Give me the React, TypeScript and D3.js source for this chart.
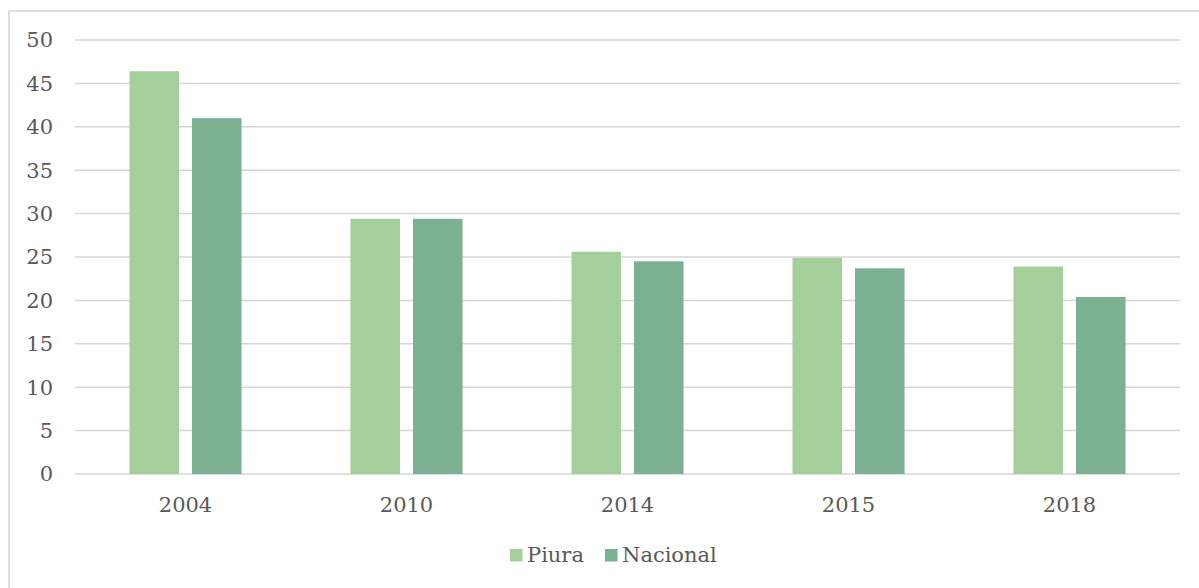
import { useMemo } from 'react';
import * as d3 from 'd3';

const YEARS = ['2004', '2010', '2014', '2015', '2018'];
const SERIES = ['Piura', 'Nacional'];
const PIURA = [46.4, 29.4, 25.6, 24.9, 23.9];
const NACIONAL = [41.0, 29.4, 24.5, 23.7, 20.4];
const Y_TICKS = [0, 5, 10, 15, 20, 25, 30, 35, 40, 45, 50];

const COLORS: Record<string, string> = {
  Piura: '#a5cf9a',
  Nacional: '#7bb192',
};

const W = 1199;
const H = 588;
const LEFT = 75;
const RIGHT = 1180;
const TOP = 40;
const BOTTOM = 474;
const FONT = '"DejaVu Serif", Georgia, serif';
const TEXT = '#595959';
const GRID = '#d6d6d6';

export default function App() {
  const x0 = useMemo(
    () =>
      d3
        .scaleBand<string>()
        .domain(YEARS)
        .range([LEFT, RIGHT])
        .paddingInner(0.493)
        .paddingOuter(0.2465),
    [],
  );
  const x1 = useMemo(
    () =>
      d3
        .scaleBand<string>()
        .domain(SERIES)
        .range([0, x0.bandwidth()])
        .paddingInner(0.208),
    [x0],
  );
  const y = useMemo(
    () => d3.scaleLinear().domain([0, 50]).range([BOTTOM, TOP]),
    [],
  );

  const values: Record<string, number[]> = { Piura: PIURA, Nacional: NACIONAL };

  // legend layout
  const legendY = 555;
  const legendItems = [
    { name: 'Piura', x: 510 },
    { name: 'Nacional', x: 605 },
  ];

  return (
    <svg
      width={W}
      height={H}
      style={{ position: 'absolute', left: 0, top: 0, background: '#fff' }}
    >
      <rect
        x={9}
        y={11}
        width={1200}
        height={600}
        fill="#fff"
        stroke={GRID}
        strokeWidth={1.5}
      />

      {Y_TICKS.map((t) => (
        <g key={t}>
          <line
            x1={LEFT}
            x2={RIGHT}
            y1={y(t)}
            y2={y(t)}
            stroke={GRID}
            strokeWidth={1.5}
          />
          <text
            x={53}
            y={y(t)}
            dy="0.35em"
            textAnchor="end"
            fill={TEXT}
            fontSize={21}
            fontFamily={FONT}
          >
            {t}
          </text>
        </g>
      ))}

      {YEARS.map((year, i) => (
        <g key={year} transform={`translate(${x0(year)},0)`}>
          {SERIES.map((s) => (
            <rect
              key={s}
              x={x1(s)}
              y={y(values[s][i])}
              width={x1.bandwidth()}
              height={y(0) - y(values[s][i])}
              fill={COLORS[s]}
            />
          ))}
          <text
            x={x0.bandwidth() / 2}
            y={505}
            dy="0.35em"
            textAnchor="middle"
            fill={TEXT}
            fontSize={21}
            fontFamily={FONT}
          >
            {year}
          </text>
        </g>
      ))}

      {legendItems.map((item) => (
        <g key={item.name}>
          <rect
            x={item.x}
            y={legendY - 6}
            width={12.5}
            height={12.5}
            fill={COLORS[item.name]}
          />
          <text
            x={item.x + 17}
            y={legendY}
            dy="0.35em"
            fill={TEXT}
            fontSize={21}
            fontFamily={FONT}
          >
            {item.name}
          </text>
        </g>
      ))}
    </svg>
  );
}
